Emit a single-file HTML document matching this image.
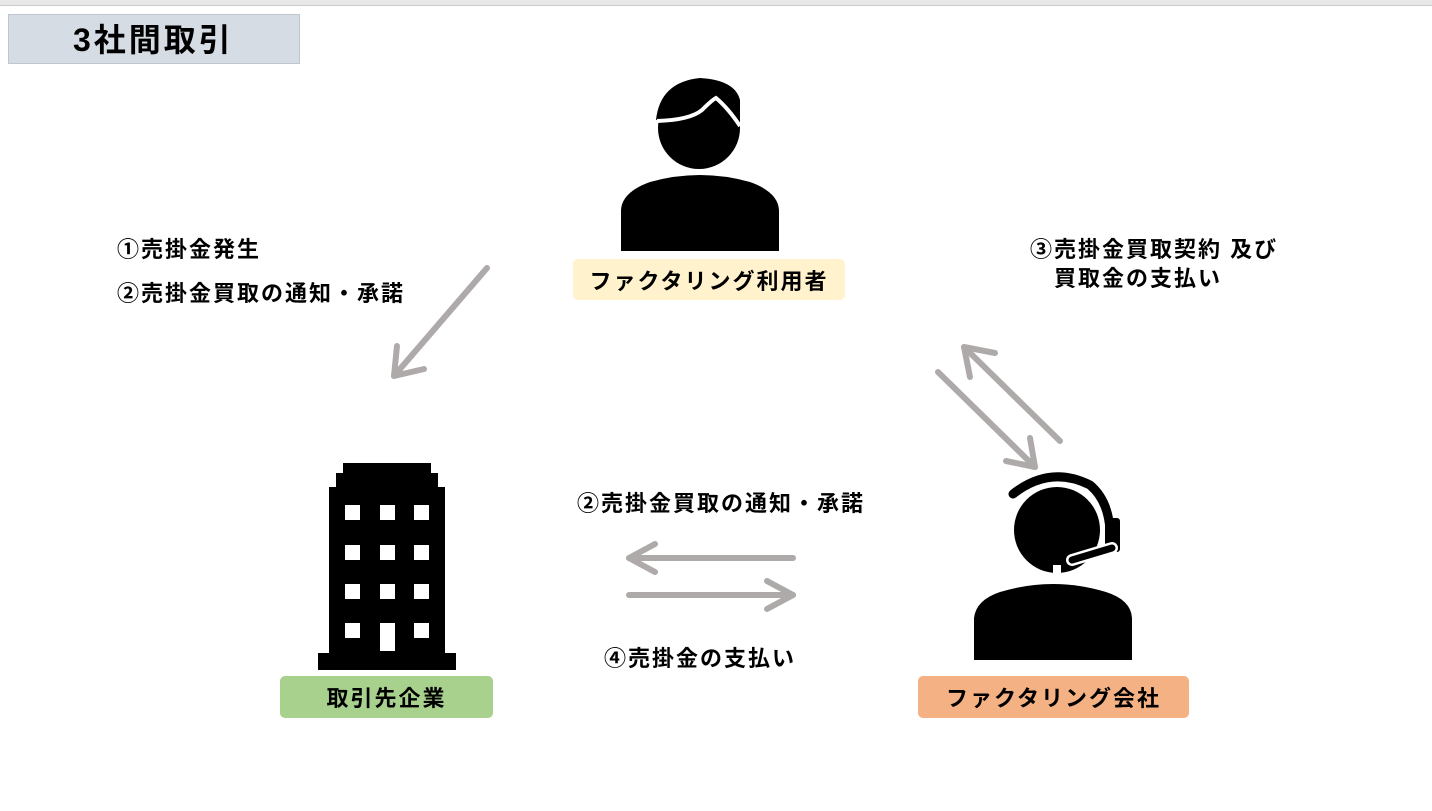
<!DOCTYPE html>
<html><head><meta charset="utf-8"><style>
body{margin:0;width:1432px;height:811px;background:#fff;position:relative;overflow:hidden;font-family:"Liberation Sans","Noto Sans CJK JP",sans-serif;}
.t{position:absolute;font-weight:bold;color:#000;white-space:nowrap;font-size:22px;letter-spacing:2px}
.box{position:absolute;display:flex;align-items:center;justify-content:center;font-weight:bold;font-size:22px;letter-spacing:2px;border-radius:5px}
</style></head><body>
<div style="position:absolute;left:0;top:0;width:1432px;height:5px;background:#e8e8e8;border-bottom:1px solid #ccc"></div>
<div style="position:absolute;left:8px;top:14px;width:292px;height:50px;background:#d6dce4;border:1px solid #c0c6cf;box-sizing:border-box"></div>
<div class="t" style="left:73px;top:15px;font-size:32px;letter-spacing:3px">3社間取引</div>
<div class="t" style="left:117px;top:232px">①売掛金発生</div>
<div class="t" style="left:117px;top:276px">②売掛金買取の通知・承諾</div>
<div class="t" style="left:1030px;top:232px">③売掛金買取契約 及び</div>
<div class="t" style="left:1054px;top:261px">買取金の支払い</div>
<div class="t" style="left:577px;top:486px">②売掛金買取の通知・承諾</div>
<div class="t" style="left:604px;top:641px">④売掛金の支払い</div>
<div class="box" style="left:573px;top:259px;width:272px;height:41px;background:#fff2cc">ファクタリング利用者</div>
<div class="box" style="left:280px;top:676px;width:213px;height:42px;background:#a9d18e">取引先企業</div>
<div class="box" style="left:918px;top:676px;width:271px;height:42px;background:#f4b183">ファクタリング会社</div>
<svg width="1432" height="811" style="position:absolute;left:0;top:0">
<g stroke="#aeaaaa" stroke-width="6" stroke-linecap="round" stroke-linejoin="round" fill="none">
<line x1="487" y1="268" x2="394" y2="376"/><polyline points="397,346 394,376 424,369"/>
<line x1="938" y1="372" x2="1035" y2="467"/><polyline points="1030,438 1035,467 1006,461"/>
<line x1="1060" y1="441" x2="964" y2="347"/><polyline points="995,353 964,347 970,377"/>
<line x1="793" y1="558" x2="629" y2="558"/><polyline points="655,544 629,558 655,572"/>
<line x1="629" y1="595" x2="793" y2="595"/><polyline points="767,581 793,595 767,609"/>
</g>
<circle cx="699" cy="128" r="41" fill="#000"/>
<path d="M656,120 Q660,82 700,78 Q735,80 740,100 L740,125 Q726,108 716,100 Q700,118 656,120Z" fill="#000"/>
<path d="M657,121 Q690,120 702,110 Q712,100 716,98 Q728,108 740,126" stroke="#fff" stroke-width="4" fill="none"/>
<path d="M621,251 L621,210 Q622,192 650,182 Q700,168 750,182 Q778,192 779,210 L779,251Z" fill="#000"/>
<g fill="#000">
<rect x="343" y="463" width="88" height="12"/><rect x="336" y="473" width="102" height="16"/>
<rect x="329" y="487" width="116" height="168"/><rect x="318" y="653" width="138" height="17"/>
</g>
<g fill="#fff">
<rect x="345" y="505" width="15" height="15"/><rect x="380" y="505" width="15" height="15"/><rect x="414" y="505" width="15" height="15"/>
<rect x="345" y="545" width="15" height="15"/><rect x="380" y="545" width="15" height="15"/><rect x="414" y="545" width="15" height="15"/>
<rect x="345" y="584" width="15" height="15"/><rect x="380" y="584" width="15" height="15"/><rect x="414" y="584" width="15" height="15"/>
<rect x="345" y="623" width="15" height="15"/><rect x="380" y="623" width="15" height="28"/><rect x="414" y="623" width="15" height="15"/>
</g>
<circle cx="1057" cy="530" r="43" fill="#000"/>
<path d="M1013,494 Q1050,465 1090,485 Q1108,500 1110,530" stroke="#000" stroke-width="9" fill="none" stroke-linecap="round"/>
<rect x="1105" y="518" width="15" height="34" rx="3" fill="#000"/>
<path d="M1112,548 L1072,560" stroke="#fff" stroke-width="12" stroke-linecap="round"/>
<path d="M1112,548 L1072,560" stroke="#000" stroke-width="7" stroke-linecap="round"/>
<rect x="1053" y="565" width="8" height="20" fill="#fff"/>
<path d="M974,660 L974,618 Q976,600 1000,592 Q1053,576 1106,592 Q1131,600 1132,618 L1132,660Z" fill="#000"/>
</svg>
</body></html>
